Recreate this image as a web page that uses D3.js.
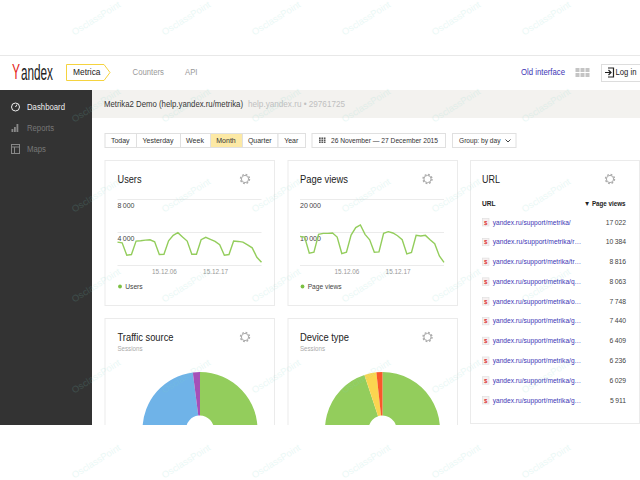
<!DOCTYPE html>
<html>
<head>
<meta charset="utf-8">
<script src="https://d3js.org/d3.v7.min.js"></script>
<style>
  html, body { margin: 0; padding: 0; background: #fff; }
  svg { display: block; }
  text { font-family: "Liberation Sans", Arial, sans-serif; }
</style>
</head>
<body>
<div class="canvas"></div>
<script>
// values
const userValues = [2776, 2694, 1184, 1265, 2898, 2939, 3020, 3061, 2816, 1265, 1306, 2939, 3592, 3918, 3388, 2898,
  1306, 1306, 3061, 3347, 3102, 2857, 2449, 1184, 1265, 2898, 2857, 2776, 2449, 2082, 939, 327];
const pageViewValues = [8673, 8469, 3571, 3878, 9286, 9592, 9592, 9694, 8469, 3469, 3878, 9082, 11327, 12143, 9286, 7653,
  3878, 3980, 9592, 10102, 9694, 8878, 7653, 3367, 3776, 8980, 8776, 8980, 7653, 6429, 2755, 816];
const userTicks = [0, 4000, 8000];
const pageViewTicks = [0, 10000, 20000];
const dateTicks = ['2015-12-06', '2015-12-17'];

const urlLabels = ['yandex.ru/support/metrika/', 'yandex.ru/support/metrika/r…', 'yandex.ru/support/metrika/tr…',
  'yandex.ru/support/metrika/q…', 'yandex.ru/support/metrika/o…', 'yandex.ru/support/metrika/g…',
  'yandex.ru/support/metrika/g…', 'yandex.ru/support/metrika/g…', 'yandex.ru/support/metrika/g…',
  'yandex.ru/support/metrika/g…'];
const urlViews = [17022, 10384, 8816, 8063, 7748, 7440, 6409, 6236, 6029, 5911];

const trafficShares = [52, 46, 2];
const trafficColors = ['#93cd5c', '#6fb3e8', '#a550b8'];
const deviceShares = [94.9, 3.4, 1.7];
const deviceColors = ['#93cd5c', '#fbd550', '#f9582a'];

const periodLabels = ['Today', 'Yesterday', 'Week', 'Month', 'Quarter', 'Year'];
const periodEdges = [104.5, 136, 180, 210, 242, 277.5, 305];
const watermarkColumns = [96, 186, 276, 366, 456, 546];
const watermarkRows = [18, 105, 195, 285, 376, 461];

const parseDay = d3.utcParse('%Y-%m-%d');
const days = d3.utcDay.range(parseDay('2015-11-26'), parseDay('2015-12-28'));
const spaced = d3.formatLocale({ decimal: '.', thousands: '\u2009', grouping: [3], currency: ['', ''] }).format(',');

const svg = d3.select('.canvas').append('svg').attr('width', 640).attr('height', 480);
svg.append('clipPath').attr('id', 'pageClip').append('rect')
  .attr('x', 0).attr('y', 55).attr('width', 640).attr('height', 370);
const page = svg.append('g').attr('clip-path', 'url(#pageClip)');

// the reference type is narrower than Liberation, so most labels get squeezed to a measured width
const addText = (parent, str, x, y, size, fill, width, extra = {}) => {
  const t = parent.append('text').text(str)
    .attr('x', x).attr('y', y)
    .attr('font-size', size).attr('fill', fill)
    .attr('dominant-baseline', 'central');
  if (width) t.attr('textLength', width).attr('lengthAdjust', 'spacingAndGlyphs');
  Object.entries(extra).forEach(([k, v]) => t.attr(k, v));
  return t;
};

const addBox = (parent, x0, x1, y0, y1, fill = '#fff', stroke = '#ebebeb') =>
  parent.append('rect')
    .attr('x', x0 + 0.5).attr('y', y0 + 0.5)
    .attr('width', x1 - x0).attr('height', y1 - y0)
    .attr('fill', fill).attr('stroke', stroke);

const drawGear = (parent, cx, cy) => {
  const g = parent.append('g').attr('transform', `translate(${cx},${cy})`);
  g.append('circle').attr('r', 3.6).attr('fill', 'none').attr('stroke', '#aaa').attr('stroke-width', 1);
  g.append('circle').attr('r', 4.5).attr('fill', 'none').attr('stroke', '#aaa')
    .attr('stroke-width', 1.4).attr('stroke-dasharray', '1.77 1.77');
};

const drawHeader = () => {
  page.append('rect').attr('x', 0).attr('y', 55).attr('width', 640).attr('height', 1).attr('fill', '#e8e8e8');

  addText(page, 'Y', 12, 71.5, 22, '#e52620', 8);
  addText(page, 'andex', 21, 72, 22, '#222', 32);

  page.append('path').attr('d', 'M66.5,64.5H104L110,72.5L104,80.5H66.5Z')
    .attr('fill', '#fff').attr('stroke', '#f5d33f').attr('stroke-width', 1);
  addText(page, 'Metrica', 73, 72, 8.5, '#222', 27.5);
  addText(page, 'Counters', 132.6, 72, 8.5, '#999', 31.4);
  addText(page, 'API', 185, 72, 8.5, '#999', 12.5);
  addText(page, 'Old interface', 521, 72, 8.5, '#3d35b5', 44);

  d3.range(6).forEach(i => {
    page.append('rect')
      .attr('x', 575.5 + (i % 3) * 5).attr('y', 68 + Math.floor(i / 3) * 5)
      .attr('width', 4).attr('height', 4).attr('fill', '#c4c4c4');
  });

  addBox(page, 601, 645, 64, 81, '#fff', '#ddd');
  page.append('path').attr('d', 'M605,72.5H610.5M608.5,70L611,72.5L608.5,75M608,68H613.5V77H608')
    .attr('fill', 'none').attr('stroke', '#222').attr('stroke-width', 1.2);
  addText(page, 'Log in', 615.5, 72, 8.5, '#222', 21);
};

const drawSidebar = () => {
  page.append('rect').attr('x', 92).attr('y', 90).attr('width', 548).attr('height', 28).attr('fill', '#f3f2ef');
  page.append('rect').attr('x', 0).attr('y', 90).attr('width', 92).attr('height', 335).attr('fill', '#333');

  page.append('circle').attr('cx', 15.5).attr('cy', 107).attr('r', 4).attr('fill', 'none')
    .attr('stroke', '#eee').attr('stroke-width', 1);
  page.append('path').attr('d', 'M15.5,107L17,104.5').attr('stroke', '#eee');
  addText(page, 'Dashboard', 27, 107, 8.5, '#eee', 38);

  [[11.5, 3], [14, 5], [16.5, 8]].forEach(([x, h]) => {
    page.append('rect').attr('x', x).attr('y', 132 - h).attr('width', 1.8).attr('height', h).attr('fill', '#888');
  });
  addText(page, 'Reports', 27, 128, 8.5, '#777', 27);

  addBox(page, 11, 19, 144, 153, 'none', '#888');
  page.append('path').attr('d', 'M11.5,147H19.5M14.5,147V153').attr('stroke', '#888').attr('fill', 'none');
  addText(page, 'Maps', 27, 148.5, 8.5, '#777', 19);

  addText(page, 'Metrika2 Demo (help.yandex.ru/metrika)', 104, 103.5, 8.3, '#333', 139);
  addText(page, 'help.yandex.ru  •  29761725', 248, 103.5, 8.3, '#c0c0c0', 97);
};

const drawToolbar = () => {
  periodLabels.forEach((label, i) => {
    const x0 = periodEdges[i];
    const x1 = periodEdges[i + 1];
    const active = label === 'Month';
    addBox(page, x0, x1, 133, 147, active ? '#fce9a5' : '#fff', '#e0e0e0');
    addText(page, label, (x0 + x1) / 2, 140.5, 7, '#333', null, { 'text-anchor': 'middle' });
  });

  addBox(page, 311.5, 445, 133, 147, '#fff', '#e0e0e0');
  d3.range(9).forEach(i => {
    page.append('rect')
      .attr('x', 319 + (i % 3) * 2.4).attr('y', 137.5 + Math.floor(i / 3) * 2)
      .attr('width', 1.7).attr('height', 1.4).attr('fill', '#444');
  });
  addText(page, '26 November — 27 December 2015', 331, 140.5, 7.5, '#333', 107);

  addBox(page, 452, 515.5, 133, 147, '#fff', '#e0e0e0');
  addText(page, 'Group: by day', 459, 140.5, 7.5, '#333', 41.5);
  page.append('path').attr('d', 'M505.5,139.5L508,142L510.5,139.5').attr('fill', 'none').attr('stroke', '#444');
};

const drawLineCard = (cardX0, cardX1, plotX0, plotX1, title, titleWidth, legendWidth, values, ticks) => {
  const card = page.append('g');
  addBox(card, cardX0, cardX1, 160, 305);
  addText(card, title, plotX0, 179, 11, '#222', titleWidth);
  drawGear(card, plotX0 + 127.5, 179);

  const x = d3.scaleUtc().domain(d3.extent(days)).range([plotX0, plotX1]);
  const y = d3.scaleLinear().domain(d3.extent(ticks)).range([265, 199]);

  const yAxis = card.append('g')
    .attr('transform', `translate(${plotX0},0)`)
    .call(d3.axisRight(y).tickValues(ticks).tickSize(plotX1 - plotX0).tickFormat(spaced));
  yAxis.select('.domain').remove();
  yAxis.selectAll('line').attr('stroke', '#ebebeb');
  yAxis.selectAll('text')
    .attr('x', 0).attr('dy', '1.15em')
    .attr('font-size', 7).attr('fill', '#444')
    .style('font-family', '"Liberation Sans", Arial, sans-serif')
    .filter(d => d === 0).remove();

  const xAxis = card.append('g')
    .attr('transform', 'translate(0,265)')
    .call(d3.axisBottom(x).tickValues(dateTicks.map(parseDay)).tickSize(0).tickPadding(4)
      .tickFormat(d3.utcFormat('%y.%m.%d')));
  xAxis.select('.domain').remove();
  xAxis.selectAll('text').attr('font-size', 6.4).attr('fill', '#999')
    .style('font-family', '"Liberation Sans", Arial, sans-serif');

  const line = d3.line()
    .x((d, i) => x(days[i]))
    .y(d => y(d));
  card.append('path').datum(values)
    .attr('d', line)
    .attr('fill', 'none')
    .attr('stroke', '#93cd5c')
    .attr('stroke-width', 1.4);

  card.append('circle').attr('cx', plotX0 + 2.5).attr('cy', 286.5).attr('r', 1.9).attr('fill', '#7cc043');
  addText(card, title, plotX0 + 7.7, 286.5, 7.5, '#444', legendWidth);
};

const drawUrlCard = () => {
  const card = page.append('g');
  addBox(card, 470, 639, 160, 423);
  addText(card, 'URL', 482, 179, 11, '#222', 18);
  drawGear(card, 610, 179);
  addText(card, 'URL', 482, 203, 7, '#222', 13.5, { 'font-weight': 'bold' });
  addText(card, '▼ Page views', 584, 203.5, 7, '#222', 41.6, { 'font-weight': 'bold' });

  const rowY = d3.scaleLinear().domain([0, urlViews.length - 1]).range([222, 400]);
  const rows = card.selectAll('g.row').data(urlLabels).join('g').attr('class', 'row')
    .attr('transform', (d, i) => `translate(0,${rowY(i)})`);
  rows.append('rect').attr('x', 482.5).attr('y', -3.5).attr('width', 6.5).attr('height', 7.5)
    .attr('fill', '#f6f0f0').attr('stroke', '#ddd').attr('stroke-width', 0.6);
  rows.append('text').text('$').attr('x', 485.7).attr('y', 2.5)
    .attr('text-anchor', 'middle').attr('font-size', 6).attr('font-weight', 'bold').attr('fill', '#d33');
  rows.append('text').text(d => d).attr('x', 492.7).attr('y', 0)
    .attr('dominant-baseline', 'central').attr('font-size', 7.9).attr('fill', '#3d35b5')
    .attr('textLength', (d, i) => (i === 0 ? 78 : 88.5)).attr('lengthAdjust', 'spacingAndGlyphs');
  rows.append('text').text((d, i) => spaced(urlViews[i])).attr('x', 626).attr('y', 0)
    .attr('dominant-baseline', 'central').attr('text-anchor', 'end').attr('font-size', 6.8).attr('fill', '#444');
};

const drawPieCard = (cardX0, cardX1, textX, centerX, title, titleWidth, shares, colors) => {
  const card = page.append('g');
  addBox(card, cardX0, cardX1, 318, 440);
  addText(card, title, textX, 337, 11, '#222', titleWidth);
  addText(card, 'Sessions', textX, 348, 6.5, '#aaa', 25);
  drawGear(card, textX + 127.5, 337);

  const pie = d3.pie().sort(null);
  const arc = d3.arc().innerRadius(14).outerRadius(57.5);
  card.append('g').attr('transform', `translate(${centerX},429.5)`)
    .selectAll('path')
    .data(pie(shares))
    .join('path')
    .attr('d', arc)
    .attr('fill', (d, i) => colors[i]);
};

const drawWatermark = () => {
  const marks = d3.cross(watermarkColumns, watermarkRows);
  svg.append('g').selectAll('text').data(marks).join('text')
    .text('OsclassPoint')
    .attr('transform', d => `translate(${d[0]},${d[1]}) rotate(-32)`)
    .attr('text-anchor', 'middle')
    .attr('dominant-baseline', 'central')
    .attr('font-size', 9.5)
    .attr('fill', '#7fd6c8')
    .attr('opacity', 0.16);
};

drawHeader();
drawSidebar();
drawToolbar();
drawLineCard(104.5, 274, 117.5, 261.5, 'Users', 24, 17.5, userValues, userTicks);
drawLineCard(287.5, 457, 300, 444, 'Page views', 48, 34, pageViewValues, pageViewTicks);
drawUrlCard();
drawPieCard(104.5, 274, 117.5, 200, 'Traffic source', 56, trafficShares, trafficColors);
drawPieCard(287.5, 457, 300, 382.5, 'Device type', 49, deviceShares, deviceColors);
drawWatermark();
</script>
</body>
</html>
